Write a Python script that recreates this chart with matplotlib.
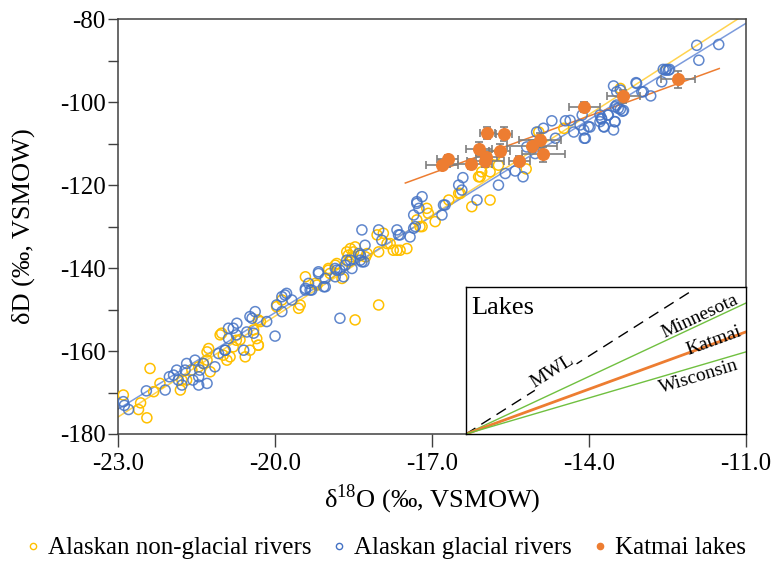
import numpy as np
import matplotlib.pyplot as plt
from matplotlib.lines import Line2D

plt.rcParams['font.family'] = ['Liberation Serif', 'DejaVu Serif']
plt.rcParams['mathtext.fontset'] = 'custom'
plt.rcParams['mathtext.rm'] = 'Liberation Serif'
plt.rcParams['axes.unicode_minus'] = False

# Alaskan non-glacial rivers (d18O, dD)
ng_x = [-22.90, -22.61, -22.45, -22.57, -22.39, -22.32, -22.20, -21.81, -21.69, -21.59,
        -21.46, -21.30, -21.27, -21.24, -21.05, -20.99, -21.37, -20.92, -20.86, -20.80,
        -20.74, -21.30, -21.78, -21.02, -20.67, -20.57, -20.48, -20.35, -20.32, -20.28,
        -20.41, -19.87, -19.52, -19.55, -19.42, -19.20, -18.98, -18.85, -18.60, -18.47,
        -18.50, -18.37, -18.24, -17.10, -17.07, -16.94, -17.19, -16.68, -16.46, -16.24,
        -18.05, -17.86, -17.74, -17.67, -17.48, -18.47, -18.63, -18.53, -18.59, -18.98,
        -18.82, -18.95, -18.72, -19.23, -19.97, -20.32, -18.02, -18.56, -18.02, -17.93,
        -17.80, -17.61, -17.29, -17.23, -16.49, -16.08, -15.89, -15.89, -18.27, -16.11,
        -16.05, -15.73, -15.79, -15.20, -14.96, -14.48, -13.40, -20.32]
ng_y = [-170.6, -174.1, -176.1, -172.5, -164.2, -169.8, -167.8, -169.4, -167.0, -164.6,
        -163.8, -162.2, -159.4, -165.0, -156.1, -161.0, -163.0, -162.2, -161.4, -159.0,
        -157.4, -160.2, -167.0, -155.7, -157.3, -161.4, -159.8, -157.0, -158.6, -152.9,
        -154.9, -147.7, -148.9, -149.7, -142.1, -144.1, -140.5, -139.3, -136.9, -152.5,
        -136.1, -136.9, -136.5, -125.6, -126.8, -128.8, -130.0, -123.6, -122.0, -125.2,
        -132.0, -134.1, -135.7, -135.7, -135.3, -134.9, -136.1, -137.3, -138.5, -140.1,
        -138.9, -141.3, -142.5, -143.7, -149.3, -152.5, -148.9, -135.3, -136.1, -131.6,
        -134.1, -135.7, -128.4, -130.0, -122.0, -118.0, -123.6, -116.8, -137.3, -118.0,
        -116.8, -115.2, -112.8, -116.1, -107.2, -106.3, -96.7, -158.6]

# Alaskan glacial rivers
gl_x = [-22.90, -22.80, -22.88, -22.46, -22.10, -22.02, -21.94, -21.88, -21.85, -21.78,
        -21.72, -21.69, -21.57, -21.53, -21.46, -21.44, -21.37, -21.46, -21.30, -21.15,
        -21.08, -20.96, -20.89, -20.74, -20.95, -20.89, -20.80, -20.73, -20.60, -20.54,
        -20.44, -20.38, -20.41, -20.16, -20.00, -19.97, -19.87, -19.78, -19.68, -19.42,
        -19.36, -19.30, -19.17, -19.04, -19.04, -18.85, -18.82, -18.76, -18.69, -18.66,
        -18.53, -18.63, -18.37, -18.30, -17.29, -17.25, -17.35, -17.32, -16.78, -16.81,
        -18.34, -18.28, -18.02, -17.96, -17.67, -17.61, -17.42, -18.40, -18.37, -18.76,
        -18.85, -19.17, -19.42, -19.33, -19.07, -19.81, -19.87, -20.48, -18.56, -18.34,
        -17.64, -17.35, -17.29, -17.19, -16.75, -16.49, -16.43, -16.41, -16.14, -15.73,
        -15.60, -15.41, -15.26, -15.19, -15.03, -15.00, -14.87, -14.71, -14.64, -14.45,
        -14.36, -14.29, -14.17, -14.13, -14.09, -13.98, -13.79, -13.76, -13.71, -13.64,
        -13.53, -13.51, -13.53, -13.47, -13.44, -13.34, -13.09, -12.96, -12.82, -12.54,
        -12.48, -12.61, -11.90, -11.94, -11.52, -12.58, -12.52, -12.46, -13.10, -13.40,
        -12.99, -13.47, -13.40, -13.50, -13.36, -13.63, -13.76, -13.79, -13.72, -13.50,
        -14.01, -14.10, -14.07]
gl_y = [-172.2, -174.1, -173.1, -169.6, -169.4, -166.2, -165.8, -164.6, -167.0, -168.2,
        -164.6, -163.0, -167.0, -162.2, -168.2, -164.6, -163.0, -166.2, -167.8, -163.8,
        -160.6, -159.8, -157.0, -156.1, -159.8, -154.5, -154.5, -153.3, -159.8, -155.4,
        -152.1, -150.5, -155.7, -152.9, -156.4, -148.9, -146.9, -146.1, -147.7, -145.3,
        -143.7, -145.3, -141.3, -144.5, -142.5, -142.1, -140.5, -152.1, -142.1, -139.3,
        -140.1, -138.1, -136.9, -138.5, -124.4, -125.6, -127.2, -130.0, -124.8, -127.2,
        -130.8, -134.5, -130.8, -133.3, -130.8, -132.0, -132.5, -136.5, -138.1, -140.5,
        -140.1, -140.9, -144.9, -145.3, -144.5, -146.5, -150.5, -151.7, -138.1, -138.5,
        -132.0, -130.4, -124.0, -122.8, -124.8, -120.0, -121.2, -118.2, -123.6, -120.0,
        -117.2, -116.6, -118.0, -110.8, -112.4, -107.2, -106.3, -104.5, -108.7, -104.5,
        -104.4, -107.2, -105.5, -103.1, -108.7, -106.0, -103.1, -104.1, -106.0, -103.1,
        -106.7, -104.7, -96.1, -97.5, -101.5, -102.0, -95.5, -97.5, -98.5, -92.3,
        -92.3, -95.1, -89.9, -86.3, -86.1, -92.1, -92.1, -92.1, -95.3, -97.1,
        -97.5, -100.7, -101.7, -101.1, -102.2, -103.1, -103.9, -104.7, -105.9, -104.7,
        -105.9, -106.7, -108.7]

# Katmai lakes with uncertainties
kt_x = [-16.81, -16.70, -16.26, -16.10, -15.94, -15.63, -15.98, -15.96, -15.71, -15.33,
        -15.09, -14.93, -14.87, -14.09, -13.34, -12.30]
kt_y = [-115.2, -113.7, -114.8, -111.2, -107.5, -107.7, -114.2, -113.3, -111.7, -114.2,
        -110.6, -109.2, -112.6, -101.2, -98.6, -94.5]
kt_xerr = [0.30, 0.20, 0.40, 0.25, 0.15, 0.15, 0.35, 0.20, 0.20, 0.20,
           0.48, 0.40, 0.41, 0.30, 0.32, 0.32]
kt_yerr = [1.2, 1.0, 1.2, 1.5, 1.5, 1.6, 1.5, 1.5, 1.5, 1.2,
           1.5, 1.8, 1.8, 1.2, 1.5, 2.0]

# regression lines (slope, intercept, x range)
fit_ng = (8.10, 10.4, -23.0, -11.0)
fit_gl = (7.75, 4.25, -23.0, -11.0)
fit_kt = (4.60, -38.95, -17.51, -11.51)

# inset: slopes of lake lines from a common origin
inset_names = ['MWL', 'Minnesota', 'Katmai', 'Wisconsin']
inset_slopes = [8.0, 5.9, 4.6, 3.7]

c_ng = '#FFC000'
c_gl = '#4472C4'
c_kt = '#ED7D31'

fig = plt.figure(figsize=(7.77, 5.64), dpi=100)
ax = fig.add_axes([0.152, 0.2305, 0.808, 0.7355])

for (m, b, x0, x1), col in [(fit_ng, '#FFD34F'), (fit_gl, '#7C9BDC'), (fit_kt, c_kt)]:
    xs = np.array([x0, x1])
    ax.plot(xs, m * xs + b, color=col, lw=1.1, zorder=2)

ax.scatter(ng_x, ng_y, s=52, facecolors='none', edgecolors=c_ng, linewidths=1.1, zorder=3)
ax.scatter(gl_x, gl_y, s=52, facecolors='none', edgecolors=c_gl, linewidths=1.1,
           alpha=0.85, zorder=3)
ax.errorbar(kt_x, kt_y, xerr=kt_xerr, yerr=kt_yerr, fmt='none', ecolor='#7F7F7F',
            elinewidth=1.2, capsize=3, capthick=1.2, zorder=4)
ax.scatter(kt_x, kt_y, s=70, color=c_kt, zorder=5)

ax.set_xlim(-23, -11)
ax.set_ylim(-180, -80)
ax.set_xticks([-23, -20, -17, -14, -11])
ax.set_xticklabels(['%.1f' % v for v in [-23, -20, -17, -14, -11]])
ax.set_yticks(np.arange(-180, -79, 20))
ax.set_yticks(np.arange(-170, -80, 20), minor=True)
ax.tick_params(which='both', direction='out', width=1, colors='#404040',
               labelcolor='black', labelsize=18)
ax.tick_params(axis='y', which='both', length=7, pad=2)
ax.tick_params(axis='x', which='both', length=9, pad=5)
for s in ax.spines.values():
    s.set_color('#404040')
    s.set_linewidth(1.1)

ax.set_xlabel('δ$^{18}$O (‰, VSMOW)', fontsize=19, labelpad=5)
ax.set_ylabel('δD (‰, VSMOW)', fontsize=19, labelpad=18)

# inset with lake lines
x_in0, y_in0 = -16.35, -180.0
ins = ax.inset_axes([x_in0, y_in0, -11.0 - x_in0, 35.4], transform=ax.transData)
ins.set_xlim(x_in0, -11.0)
ins.set_ylim(y_in0, y_in0 + 35.4)
ins.set_xticks([])
ins.set_yticks([])
for s in ins.spines.values():
    s.set_color('black')
    s.set_linewidth(1.0)

styles = {'MWL': dict(color='black', lw=1.0, ls=(0, (8, 5))),
          'Minnesota': dict(color='#70C040', lw=1.0),
          'Katmai': dict(color=c_kt, lw=2.0),
          'Wisconsin': dict(color='#70C040', lw=1.0)}
ends = {'MWL': -12.0, 'Minnesota': -11.0, 'Katmai': -11.0, 'Wisconsin': -11.0}
for name, m in zip(inset_names, inset_slopes):
    xs = np.array([x_in0, ends[name]])
    ins.plot(xs, y_in0 + m * (xs - x_in0), **styles[name])

ins.text(0.02, 0.93, 'Lakes', transform=ins.transAxes, fontsize=19, va='top', ha='left')
ins.text(-14.70, -165.0, 'MWL', fontsize=14, rotation=32, ha='center', va='center',
         bbox=dict(facecolor='white', edgecolor='none', pad=0.5))
ins.text(-11.88, -151.6, 'Minnesota', fontsize=14, rotation=25, ha='center', va='center')
ins.text(-11.62, -157.6, 'Katmai', fontsize=14, rotation=20, ha='center', va='center')
ins.text(-11.90, -166.2, 'Wisconsin', fontsize=14, rotation=17, ha='center', va='center')

handles = [Line2D([], [], ls='none', marker='o', ms=4.5, mfc='none', mec=c_ng, mew=1),
           Line2D([], [], ls='none', marker='o', ms=4.5, mfc='none', mec=c_gl, mew=1),
           Line2D([], [], ls='none', marker='o', ms=4.5, mfc=c_kt, mec=c_kt)]
labels = ['Alaskan non-glacial rivers', 'Alaskan glacial rivers', 'Katmai lakes']
fig.legend(handles, labels, loc='center', bbox_to_anchor=(0.495, 0.028), ncol=3,
           frameon=False, fontsize=18, handletextpad=0.2, columnspacing=0.7,
           handlelength=0.8)

fig.savefig('out.png', dpi=100)
